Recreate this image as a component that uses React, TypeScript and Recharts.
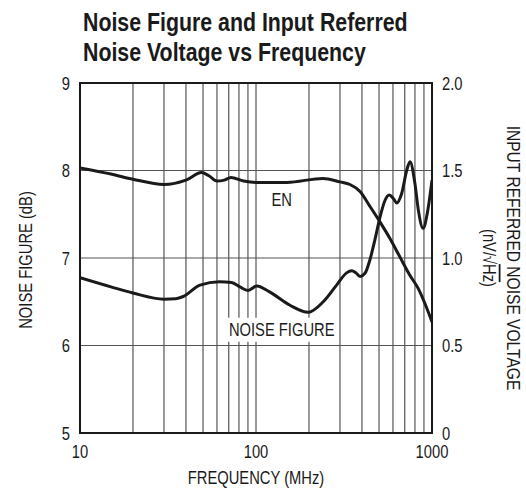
import React from "react";
import {
  LineChart,
  Line,
  XAxis,
  YAxis,
  CartesianGrid,
  ReferenceArea,
  ReferenceDot,
  Label,
} from "recharts";

// noise figure (dB), left axis
const nfFreq = [
  10, 15, 20, 30, 35, 38.6, 48, 62, 72.6, 81, 90, 101, 120, 156, 198, 241, 287,
  327, 350, 370, 390, 416, 444, 474, 507, 541, 572, 603, 631, 673, 718, 750,
  800, 836, 891, 940, 1000,
];
const nfValues = [
  6.775, 6.67, 6.6, 6.53, 6.535, 6.56, 6.69, 6.73, 6.72, 6.67, 6.63, 6.68,
  6.61, 6.46, 6.38, 6.5, 6.69, 6.83, 6.855, 6.83, 6.79, 6.825, 6.98, 7.21,
  7.47, 7.66, 7.72, 7.68, 7.63, 7.74, 8.0, 8.1, 7.85, 7.55, 7.34, 7.51, 7.89,
];

// input referred noise voltage (nV/rtHz), right axis
const enFreq = [
  10, 15, 20, 30, 40, 49, 54, 60, 66, 72, 85, 100, 150, 240, 300, 342, 390,
  444, 507, 578, 658, 750, 836, 920, 1000,
];
const enValues = [
  1.515, 1.48, 1.45, 1.42, 1.445, 1.488, 1.47, 1.44, 1.445, 1.46, 1.44, 1.432,
  1.432, 1.455, 1.435, 1.42, 1.38, 1.295, 1.205, 1.11, 1.005, 0.9, 0.825, 0.73,
  0.635,
];

const freqTicks = [
  10, 20, 30, 40, 50, 60, 70, 80, 90, 100, 200, 300, 400, 500, 600, 700, 800,
  900, 1000,
];
const freqLabels = [10, 100, 1000];
const nfTicks = [5, 6, 7, 8, 9];
const enTicks = [0, 0.5, 1.0, 1.5, 2.0];

const nfData = nfFreq.map((f, i) => ({ f, nf: nfValues[i] }));
const enData = enFreq.map((f, i) => ({ f, en: enValues[i] }));

const FONT = "'Liberation Sans', Arial, Helvetica, sans-serif";
const INK = "#1a1a1a";
const SQUEEZE = 0.82; // fake a condensed face

// text squeezed horizontally in its own frame, (x, y) is the baseline anchor
const Narrow = ({ x, y, angle = 0, size = 18, anchor = "middle", children }: any) => (
  <text
    transform={`translate(${x},${y}) rotate(${angle}) scale(${SQUEEZE},1)`}
    x={0}
    y={0}
    textAnchor={anchor}
    fontSize={size}
    fontFamily={FONT}
    fill={INK}
  >
    {children}
  </text>
);

const XTick = ({ x, y, payload }: any) =>
  freqLabels.includes(payload.value) ? (
    <Narrow x={x} y={y + 13}>
      {String(payload.value)}
    </Narrow>
  ) : null;

const LeftTick = ({ x, y, payload }: any) => (
  <Narrow x={x} y={y + 6.5} anchor="end">
    {String(payload.value)}
  </Narrow>
);

const RightTick = ({ x, y, payload }: any) => (
  <Narrow x={x} y={y + 6.5} anchor="start">
    {payload.value === 0 ? "0" : payload.value.toFixed(1)}
  </Narrow>
);

const LeftTitle = ({ viewBox }: any) => (
  <Narrow x={viewBox.x + 32} y={viewBox.y + viewBox.height / 2 + 2} angle={-90}>
    NOISE FIGURE (dB)
  </Narrow>
);

const RightTitle = ({ viewBox }: any) => {
  const cy = viewBox.y + viewBox.height / 2;
  return (
    <g>
      <Narrow x={viewBox.x + 75} y={cy} angle={90} size={19}>
        INPUT REFERRED NOISE VOLTAGE
      </Narrow>
      <Narrow x={viewBox.x + 51} y={cy} angle={90}>
        (nV/√<tspan style={{ textDecoration: "overline" }}>Hz</tspan>)
      </Narrow>
    </g>
  );
};

const BottomTitle = ({ viewBox }: any) => (
  <Narrow x={viewBox.x + viewBox.width / 2} y={viewBox.y + 51}>
    FREQUENCY (MHz)
  </Narrow>
);

const tagShape = (text: string, w: number) => (p: any) => (
  <g>
    <rect x={p.cx - w / 2} y={p.cy - 12} width={w} height={24} fill="#fff" />
    <Narrow x={p.cx} y={p.cy + 6.5} size={18}>
      {text}
    </Narrow>
  </g>
);

export default function App() {
  return (
    <div
      style={{
        position: "absolute",
        left: 0,
        top: 0,
        width: 526,
        height: 494,
        background: "#fff",
      }}
    >
      <div
        style={{
          position: "absolute",
          left: 83,
          top: 7,
          fontFamily: FONT,
          fontWeight: "bold",
          fontSize: 26,
          lineHeight: "30px",
          color: INK,
          whiteSpace: "nowrap",
          transform: `scaleX(${SQUEEZE})`,
          transformOrigin: "left top",
        }}
      >
        Noise Figure and Input Referred
        <br />
        Noise Voltage vs Frequency
      </div>
      <LineChart
        width={526}
        height={494}
        margin={{ top: 83, right: 0, bottom: 0, left: 0 }}
        style={{ position: "absolute", left: 0, top: 0 }}
      >
        <CartesianGrid yAxisId="nf" stroke="#555" strokeWidth={1.2} />
        <XAxis
          dataKey="f"
          type="number"
          scale="log"
          domain={[10, 1000]}
          ticks={freqTicks}
          allowDataOverflow
          tick={XTick}
          tickLine={false}
          axisLine={false}
          tickSize={6}
          tickMargin={6}
          height={61}
          interval={0}
        >
          <Label content={BottomTitle} />
        </XAxis>
        <YAxis
          yAxisId="nf"
          domain={[5, 9]}
          ticks={nfTicks}
          tick={LeftTick}
          tickLine={false}
          axisLine={false}
          tickSize={6}
          tickMargin={4}
          width={80}
          interval={0}
        >
          <Label content={LeftTitle} />
        </YAxis>
        <YAxis
          yAxisId="en"
          orientation="right"
          domain={[0, 2]}
          ticks={enTicks}
          tick={RightTick}
          tickLine={false}
          axisLine={false}
          tickSize={6}
          tickMargin={4}
          width={94}
          interval={0}
        >
          <Label content={RightTitle} />
        </YAxis>
        <ReferenceArea
          yAxisId="nf"
          x1={10}
          x2={1000}
          y1={5}
          y2={9}
          fill="none"
          stroke={INK}
          strokeWidth={2}
        />
        <ReferenceDot
          yAxisId="nf"
          x={140}
          y={6.18}
          r={0}
          shape={tagShape("NOISE FIGURE", 114)}
        />
        <ReferenceDot
          yAxisId="en"
          x={140}
          y={1.335}
          r={0}
          shape={tagShape("EN", 28)}
        />
        <Line
          yAxisId="nf"
          data={nfData}
          dataKey="nf"
          type="monotone"
          stroke={INK}
          strokeWidth={3}
          dot={false}
          isAnimationActive={false}
        />
        <Line
          yAxisId="en"
          data={enData}
          dataKey="en"
          type="monotone"
          stroke={INK}
          strokeWidth={3}
          dot={false}
          isAnimationActive={false}
        />
      </LineChart>
    </div>
  );
}
